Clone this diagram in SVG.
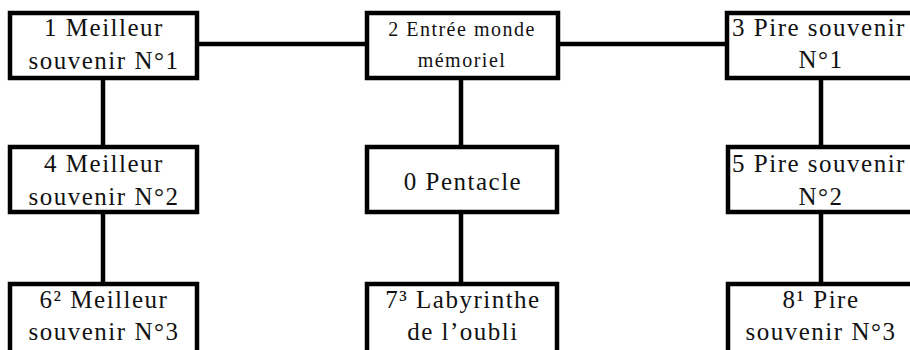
<svg xmlns="http://www.w3.org/2000/svg" width="910" height="350" viewBox="0 0 910 350">
<style>
.box{fill:#fff;stroke:#000;stroke-width:4.5}
.c{stroke:#000;stroke-width:4.5;fill:none}
text{font-family:"Liberation Serif","DejaVu Serif",serif;fill:#111;text-anchor:middle;font-size:25px;letter-spacing:1.5px}
.s{font-size:20px;letter-spacing:1.5px}
</style>
<rect width="910" height="350" fill="#fff"/>
<g id="connectors">
<line class="c" x1="197" y1="44" x2="367" y2="44"/>
<line class="c" x1="558" y1="44" x2="727" y2="44"/>
<line class="c" x1="103" y1="78" x2="103" y2="147"/>
<line class="c" x1="103" y1="212" x2="103" y2="284"/>
<line class="c" x1="461" y1="78" x2="461" y2="147"/>
<line class="c" x1="461" y1="212" x2="461" y2="284"/>
<line class="c" x1="821" y1="78" x2="821" y2="147"/>
<line class="c" x1="821" y1="212" x2="821" y2="284"/>
</g>
<g id="n1"><rect class="box" x="10" y="13" width="187" height="65"/><text x="104" y="36">1 Meilleur</text><text x="104" y="69">souvenir N°1</text></g>
<g id="n2"><rect class="box" x="367" y="13" width="191" height="65"/><text class="s" x="462" y="36">2 Entrée monde</text><text class="s" x="462" y="67">mémoriel</text></g>
<g id="n3"><rect class="box" x="727" y="13" width="189" height="65"/><text x="819" y="36">3 Pire souvenir</text><text x="821" y="68">N°1</text></g>
<g id="n4"><rect class="box" x="10" y="147" width="187" height="65"/><text x="104" y="172">4 Meilleur</text><text x="104" y="205">souvenir N°2</text></g>
<g id="n0"><rect class="box" x="367" y="147" width="190" height="65"/><text x="463" y="190">0 Pentacle</text></g>
<g id="n5"><rect class="box" x="728" y="147" width="189" height="65"/><text x="819" y="172">5 Pire souvenir</text><text x="821" y="205">N°2</text></g>
<g id="n6"><rect class="box" x="10" y="284" width="187" height="80"/><text x="104" y="308">6² Meilleur</text><text x="104" y="340">souvenir N°3</text></g>
<g id="n7"><rect class="box" x="367" y="284" width="190" height="80"/><text x="463" y="308">7³ Labyrinthe</text><text x="463" y="340">de l’oubli</text></g>
<g id="n8"><rect class="box" x="728" y="284" width="189" height="80"/><text x="821" y="308">8¹ Pire</text><text x="821" y="340">souvenir N°3</text></g>
</svg>
